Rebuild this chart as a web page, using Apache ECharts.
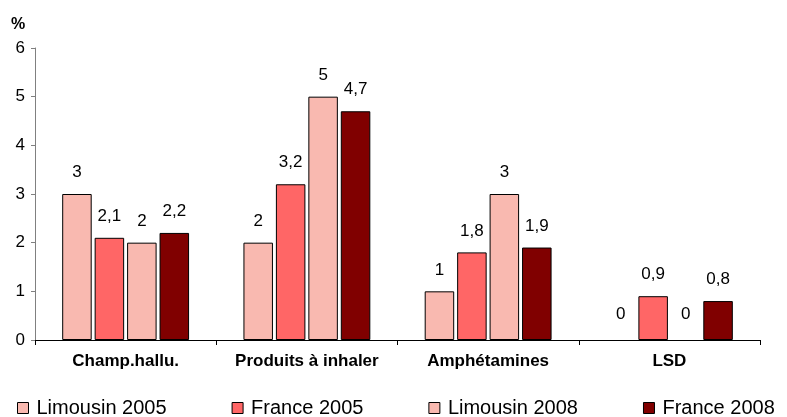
<!DOCTYPE html>
<html><head><meta charset="utf-8">
<script src="https://cdn.jsdelivr.net/npm/echarts@6/dist/echarts.min.js"></script>
<style>html,body{margin:0;padding:0;background:#fff}#c{width:787px;height:417px}</style>
</head><body><div id="c"></div>
<script>
const categories = ['Champ.hallu.', 'Produits à inhaler', 'Amphétamines', 'LSD'];
const seriesNames = ['Limousin 2005', 'France 2005', 'Limousin 2008', 'France 2008'];
const limousin2005 = [3, 2, 1, 0];
const france2005 = [2.1, 3.2, 1.8, 0.9];
const limousin2008 = [2, 5, 3, 0];
const france2008 = [2.2, 4.7, 1.9, 0.8];
const yTicks = [0, 1, 2, 3, 4, 5, 6];
const colors = ['#F9B9B0', '#FF6666', '#F9B9B0', '#800000'];
const allData = [limousin2005, france2005, limousin2008, france2008];

const font = 'Liberation Sans, Arial, sans-serif';
const chart = echarts.init(document.getElementById('c'));
chart.setOption({
  animation: false,
  textStyle: { fontFamily: font },
  grid: { left: 35, right: 27, top: 48, bottom: 77 },
  graphic: [{ type: 'text', left: 11, top: 17, style: { text: '%', font: 'bold 16px ' + font, fill: '#000' } }],
  legend: {
    left: 12, top: 393, itemWidth: 11, itemHeight: 11, itemGap: 65,
    icon: 'rect',
    textStyle: { fontSize: 20, color: '#000', fontFamily: font, padding: [0, 0, 0, 3] },
    data: seriesNames.map((n, i) => ({ name: n, itemStyle: { color: colors[i], borderColor: '#000', borderWidth: 1 } }))
  },
  xAxis: {
    type: 'category', data: categories,
    axisLine: { lineStyle: { color: '#000', width: 1 } },
    axisTick: { show: true, length: 5, lineStyle: { color: '#000' } },
    axisLabel: { interval: 0, fontSize: 17, fontWeight: 'bold', color: '#000', margin: 13, fontFamily: font }
  },
  yAxis: {
    type: 'value', min: yTicks[0], max: yTicks[yTicks.length - 1], interval: 1,
    axisLine: { show: true, lineStyle: { color: '#808080' } },
    axisTick: { show: true, length: 4, lineStyle: { color: '#808080' } },
    splitLine: { show: false },
    axisLabel: { fontSize: 17, color: '#000', margin: 10, fontFamily: font }
  },
  series: allData.map((d, i) => ({
    name: seriesNames[i], type: 'bar', barGap: '10%', barCategoryGap: '30%',
    itemStyle: { color: colors[i], borderColor: '#000', borderWidth: 1 },
    data: d.map(v => v === 0 ? { value: v, itemStyle: { borderWidth: 0 }, label: { distance: 17 } } : v),
    label: {
      show: true, position: 'top', distance: 13, fontSize: 17, color: '#000', fontFamily: font,
      formatter: p => String(p.value).replace('.', ',')
    }
  }))
});
</script></body></html>
